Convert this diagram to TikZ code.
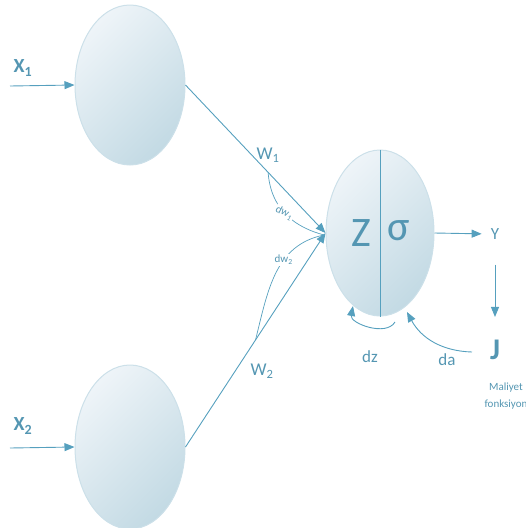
\documentclass[tikz,border=0pt]{standalone}
\usepackage{fontspec}
\setmainfont{Carlito}
\usepackage{xcolor}
\usetikzlibrary{positioning, arrows.meta, calc, shapes.geometric}

\definecolor{lineblue}{RGB}{86,160,190}
\definecolor{textblue}{RGB}{84,150,178}
\definecolor{celllight}{RGB}{238,244,248}
\definecolor{celldark}{RGB}{195,218,228}
\definecolor{cellrim}{RGB}{204,224,233}

\tikzset{
  cell/.style={ellipse, draw=cellrim, line width=1pt, top color=celllight,
    bottom color=celldark, shading angle=45, inner sep=0pt},
  lbl/.style={text=textblue, inner sep=1pt},
  wire/.style={draw, color=lineblue, line width=0.9pt},
}

\begin{document}
\begin{tikzpicture}[x=1pt, y=-1pt, >={Triangle[length=10pt, width=8pt]}]
                \useasboundingbox (0,0) rectangle (526,528);
                % cells
                \node[cell, minimum width=110pt, minimum height=160pt] (x1n) at (130,85) {};
                \node[cell, minimum width=110pt, minimum height=164pt] (x2n) at (130,447) {};
                \node[cell, minimum width=108pt, minimum height=166pt] (nr) at (380,233) {};
                \draw[wire] (nr.north) -- (nr.south);

                % labels
                \node[lbl, font=\fontsize{20}{20}\selectfont\bfseries] (lx1) at (23,68) {X\textsubscript{1}};
                \node[lbl, font=\fontsize{20}{20}\selectfont\bfseries] (lx2) at (23,426) {X\textsubscript{2}};
                \node[lbl, font=\fontsize{18}{18}\selectfont] (w1) at (268,155) {W\textsubscript{1}};
                \node[lbl, font=\fontsize{18}{18}\selectfont] (w2) at (262,371) {W\textsubscript{2}};
                \node[lbl, font=\fontsize{42}{42}\selectfont] (z) at (361,233) {Z};
                \node[lbl, font=\fontsize{42}{42}\selectfont] (sg) at (399,231) {σ};
                \node[lbl, font=\fontsize{17}{17}\selectfont] (y) at (495,234) {Y};
                \node[lbl, font=\fontsize{30}{30}\selectfont\bfseries] (j) at (495,350) {J};
                \node[lbl, font=\fontsize{17}{17}\selectfont] (dz) at (370,357) {dz};
                \node[lbl, font=\fontsize{17}{17}\selectfont] (da) at (447,360) {da};
                \node[lbl, font=\fontsize{11}{17}\selectfont, align=center] (cost) at (506,396) {Maliyet\\fonksiyon};

                % free ends
                \coordinate (in1) at (10,86);
                \coordinate (in2) at (10,448);
                \coordinate (dw1s) at ($(x1n.east)!0.59!(nr.west)$);
                \coordinate (dw2s) at ($(x2n.east)!0.5!(nr.west)$);
                \coordinate (tip) at (324,235);
                \coordinate (dzs) at (395,322);
                \coordinate (dze) at (353,306);
                \coordinate (das) at (472,352);
                \coordinate (dae) at (407,312);

                \path[->, every edge/.style={wire}]
                (in1) edge (x1n.west)
                (in2) edge (x2n.west)
                (x1n.east) edge (nr.west)
                (x2n.east) edge (nr.west)
                (nr.east) edge [shorten >=8pt] (y.west)
                (y.south) edge [shorten <=24pt, shorten >=22pt] (j.north)
                (dzs) edge [bend left=80] (dze)
                (das) edge [bend left=30] (dae);

                \draw[wire, line width=0.7pt] (dw1s) .. controls (271,212) and (298,228) .. node[pos=0.45, rotate=-28, fill=white, lbl, font=\fontsize{11}{11}\selectfont] (dw1) {dw\textsubscript{1}} (tip);
                \draw[wire, line width=0.7pt] (dw2s) .. controls (268,290) and (275,245) .. node[pos=0.62, fill=white, lbl, font=\fontsize{11}{11}\selectfont] (dw2) {dw\textsubscript{2}} (tip);
            \end{tikzpicture}
\end{document}
